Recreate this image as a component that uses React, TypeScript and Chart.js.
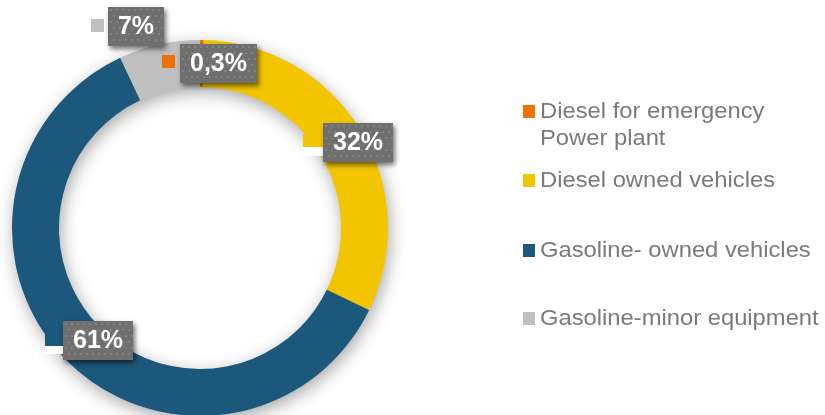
import React, { useEffect, useRef } from "react";
import { Chart, registerables } from "chart.js";

Chart.register(...registerables);

// ---- data ----
const categories: string[][] = [
  ["Diesel for emergency", "Power plant"],
  ["Diesel owned vehicles"],
  ["Gasoline- owned vehicles"],
  ["Gasoline-minor equipment"],
];
const shares: number[] = [0.3, 32, 61, 7];
const sliceColors: string[] = ["#EE7203", "#F2C500", "#1B587C", "#BFBFBF"];
const valueLabels: string[] = shares.map((v) => String(v).replace(".", ",") + "%");

// ---- layout (positions of annotation boxes and legend rows) ----
const labelLayout = [
  { x: 180, y: 44, keyX: 162, keyY: 55, notch: false },
  { x: 323, y: 123, keyX: 303, keyY: 134, notch: true },
  { x: 63, y: 321, keyX: 45, keyY: 333, notch: true },
  { x: 108, y: 7, keyX: 91, keyY: 19, notch: false },
];
const legendLayout = { keyX: 523, textX: 540, baselines: [118, 187, 257, 325], lineHeight: 27 };

const ringShadow = {
  id: "ringShadow",
  beforeDatasetsDraw(chart: any) {
    const meta = chart.getDatasetMeta(0);
    const arc = meta.data[0];
    if (!arc) return;
    const { x, y, innerRadius, outerRadius } = arc.getProps(["x", "y", "innerRadius", "outerRadius"], true);
    const ctx = chart.ctx;
    ctx.save();
    ctx.shadowColor = "rgba(0,0,0,0.38)";
    ctx.shadowBlur = 18;
    ctx.shadowOffsetX = 2;
    ctx.shadowOffsetY = 5;
    ctx.beginPath();
    ctx.arc(x, y, outerRadius - 1, 0, Math.PI * 2);
    ctx.arc(x, y, innerRadius + 1, Math.PI * 2, 0, true);
    ctx.closePath();
    ctx.fillStyle = "#888";
    ctx.fill("evenodd");
    ctx.restore();
  },
};

const valueBoxes = {
  id: "valueBoxes",
  afterDraw(chart: any) {
    const ctx = chart.ctx;
    const colors = chart.data.datasets[0].backgroundColor;
    ctx.save();
    ctx.font = "bold 25px 'Liberation Sans', Arial, sans-serif";
    valueLabels.forEach((txt, i) => {
      const L = labelLayout[i];
      const tw = ctx.measureText(txt).width;
      const w = Math.round(tw + 20);
      const h = 39;
      if (L.notch) {
        ctx.fillStyle = "#ffffff";
        ctx.fillRect(L.keyX, L.keyY + 13, L.x - L.keyX, L.y + h - (L.keyY + 13) - 6);
      }
      ctx.fillStyle = colors[i];
      ctx.fillRect(L.keyX, L.keyY, 13, 13);
      ctx.save();
      ctx.shadowColor = "rgba(0,0,0,0.55)";
      ctx.shadowBlur = 5;
      ctx.shadowOffsetX = 2;
      ctx.shadowOffsetY = 3;
      ctx.fillStyle = "#6f6f6f";
      ctx.fillRect(L.x, L.y, w, h);
      ctx.restore();
      ctx.fillStyle = "rgba(150,150,150,0.45)";
      for (let yy = L.y + 2; yy < L.y + h - 1; yy += 6) {
        const off = (Math.round((yy - L.y) / 6) % 2) * 3;
        for (let xx = L.x + 2 + off; xx < L.x + w - 1; xx += 6) {
          ctx.fillRect(xx, yy, 2, 2);
        }
      }
      ctx.fillStyle = "#ffffff";
      ctx.textBaseline = "middle";
      ctx.textAlign = "center";
      ctx.fillText(txt, L.x + w / 2, L.y + h / 2 + 1);
    });
    ctx.restore();
  },
};

const sideLegend = {
  id: "sideLegend",
  afterDraw(chart: any) {
    const ctx = chart.ctx;
    const colors = chart.data.datasets[0].backgroundColor;
    ctx.save();
    ctx.font = "22px 'Liberation Sans', Arial, sans-serif";
    ctx.textBaseline = "alphabetic";
    ctx.textAlign = "left";
    categories.forEach((lines, i) => {
      const base = legendLayout.baselines[i];
      ctx.fillStyle = colors[i];
      ctx.fillRect(legendLayout.keyX, base - 13, 12, 13);
      ctx.fillStyle = "#7a7a7a";
      lines.forEach((line, j) => {
        ctx.save();
        ctx.translate(legendLayout.textX, base + j * legendLayout.lineHeight);
        ctx.scale(1.08, 1);
        ctx.fillText(line, 0, 0);
        ctx.restore();
      });
    });
    ctx.restore();
  },
};

export default function App() {
  const ref = useRef<HTMLCanvasElement | null>(null);
  useEffect(() => {
    if (!ref.current) return;
    const chart = new Chart(ref.current, {
      type: "doughnut",
      data: {
        labels: categories.map((c) => c.join(" ")),
        datasets: [
          {
            data: shares,
            backgroundColor: sliceColors,
            borderWidth: 0,
          },
        ],
      },
      options: {
        responsive: false,
        animation: false,
        cutout: "75%",
        layout: { padding: { left: 12, top: 40, right: 437, bottom: 4 } },
        plugins: { legend: { display: false }, tooltip: { enabled: false } },
      },
      plugins: [ringShadow, valueBoxes, sideLegend],
    });
    return () => chart.destroy();
  }, []);
  return (
    <div style={{ position: "fixed", left: 0, top: 0, width: 825, height: 415, overflow: "hidden", background: "#fff" }}>
      <canvas ref={ref} width={825} height={420} style={{ display: "block" }} />
    </div>
  );
}
